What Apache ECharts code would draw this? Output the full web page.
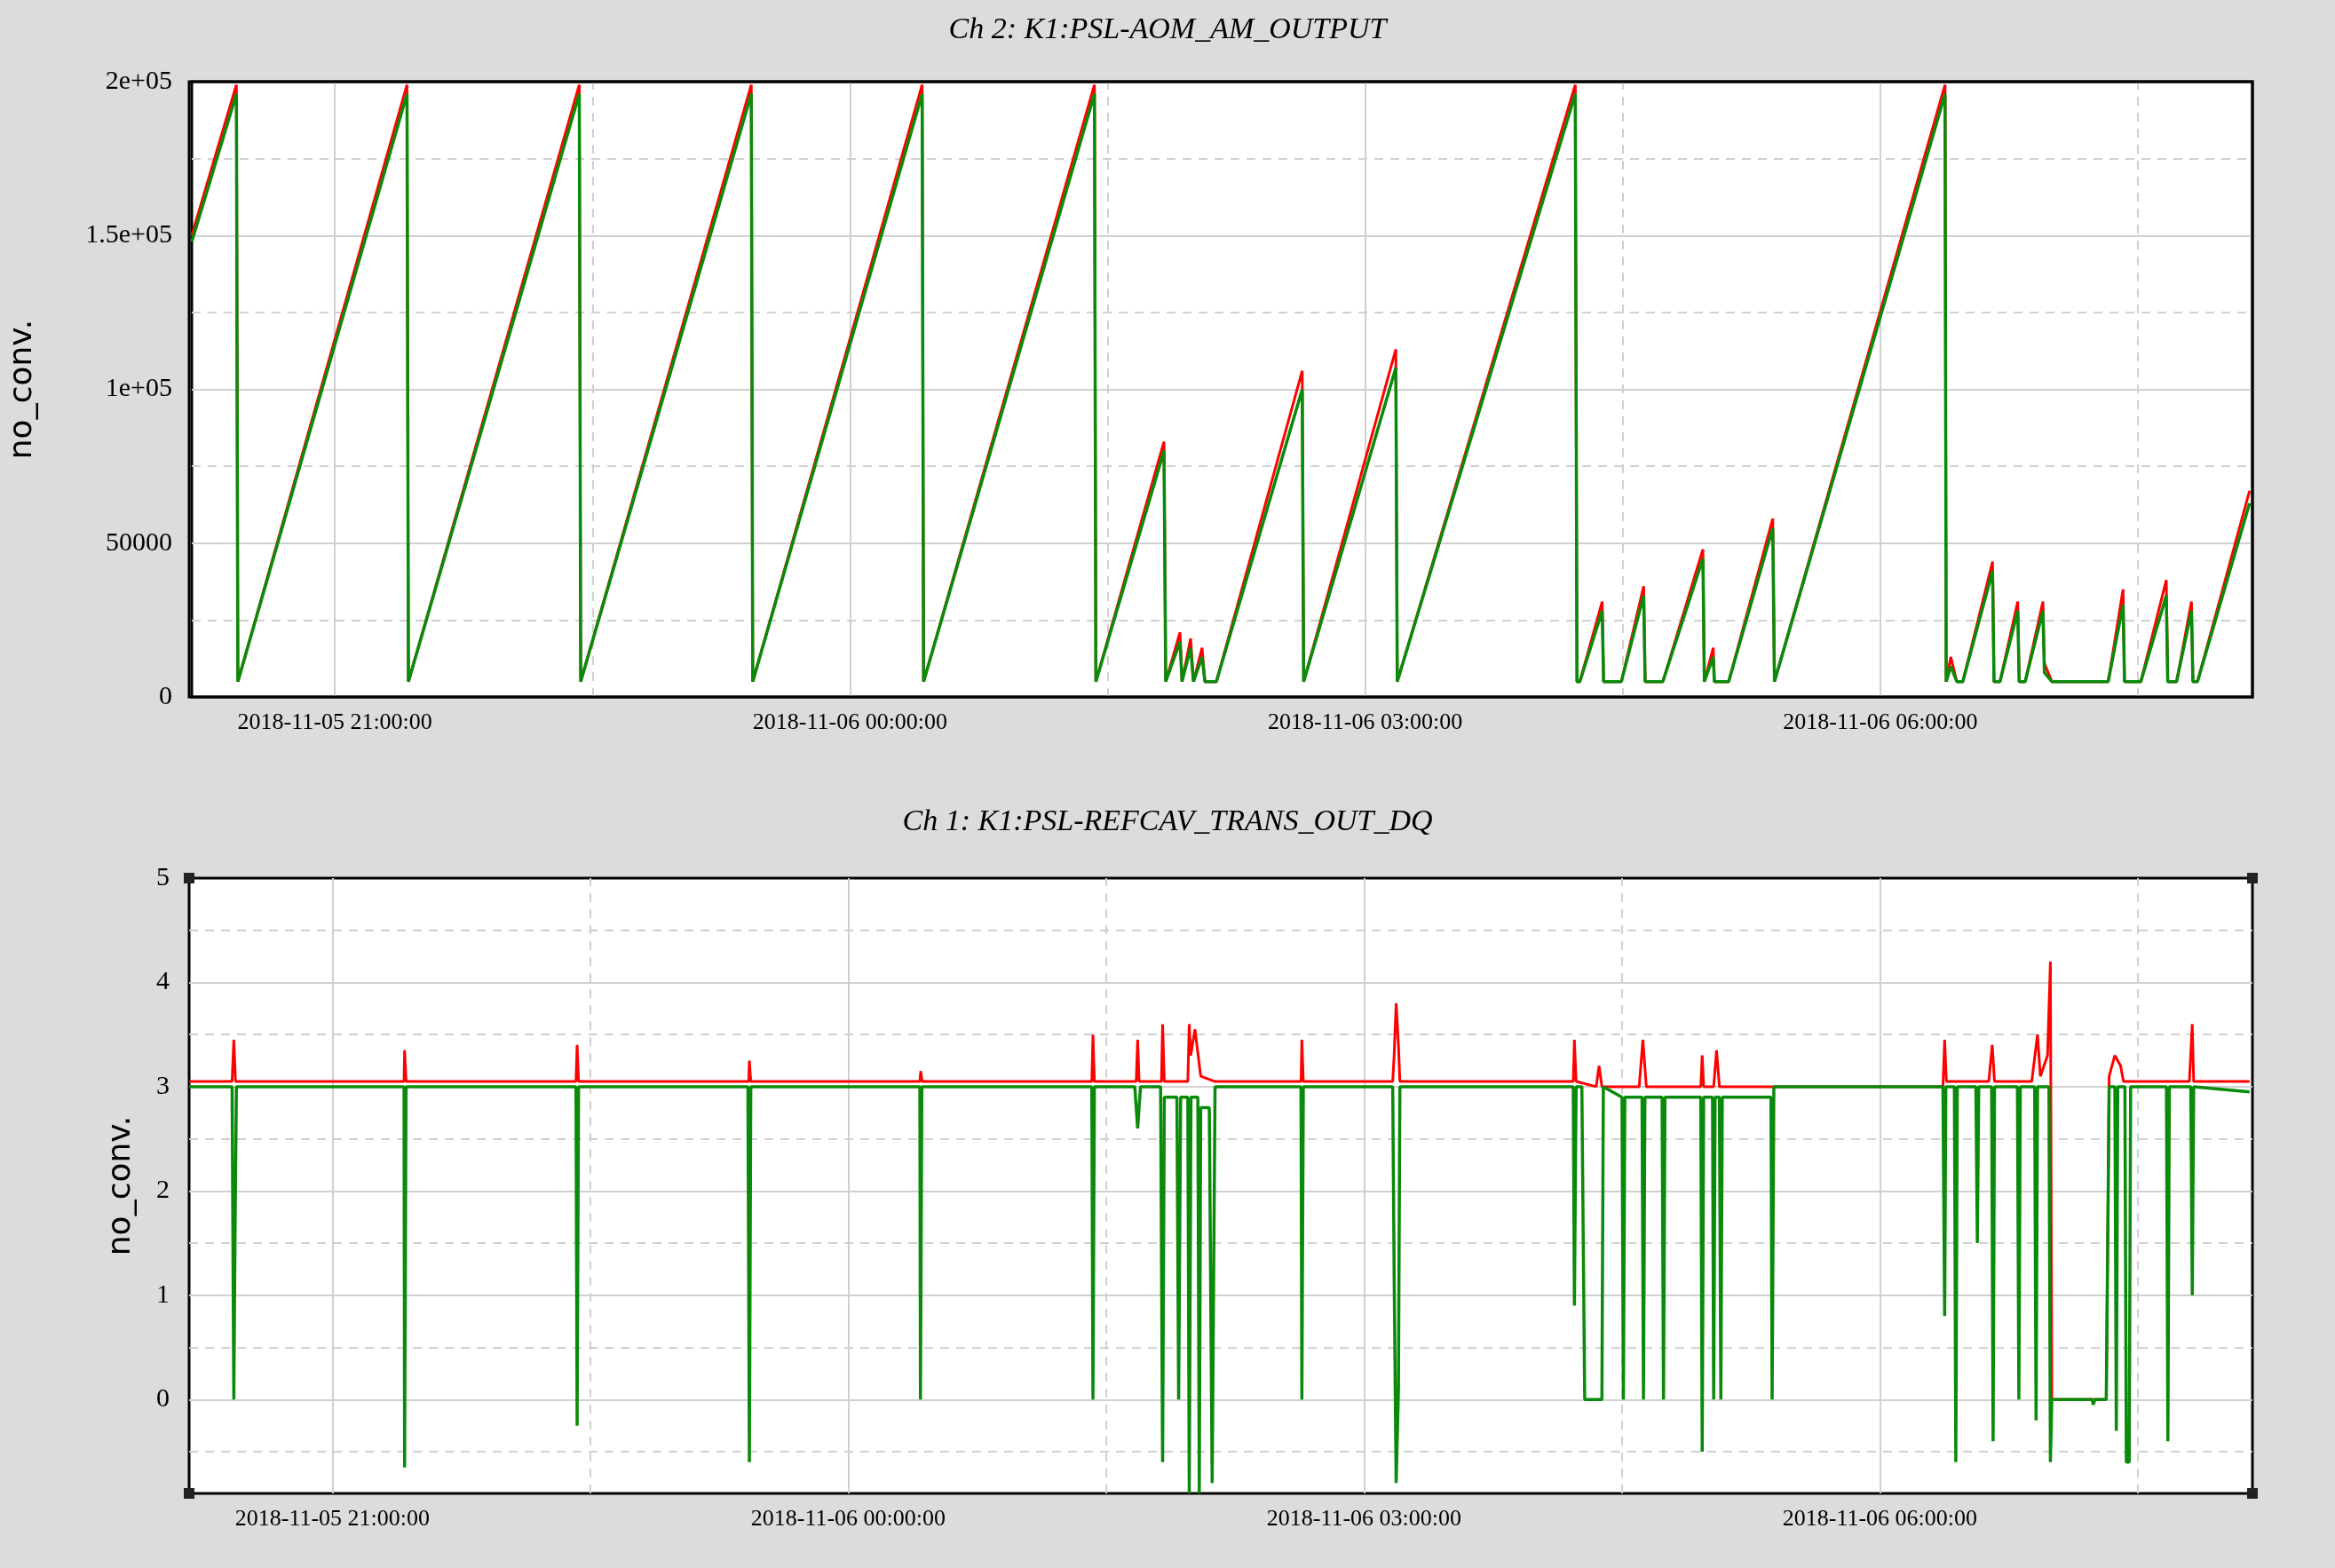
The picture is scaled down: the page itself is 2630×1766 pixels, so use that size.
<!DOCTYPE html>
<html><head><meta charset="utf-8">
<script src="https://cdn.jsdelivr.net/npm/echarts@6/dist/echarts.min.js"></script>
<style>html,body{margin:0;background:#dcdcdc}#c{width:2630px;height:1766px}</style>
</head><body><div id="c"></div>
<script>
// times are minutes after 2018-11-05 20:10:00 (UTC used for display)
var base = Date.UTC(2018,10,5,20,10,0);
var xMinutes = [0, 720];
var xLabelMinutes = [50, 230, 410, 590];
var xDashMinutes = [140, 320, 500, 680];

// Ch 2 sawtooth vertices
var aomT = [0,15.6,16.1,75.2,75.7,135.4,135.9,195.5,196,255.2,255.7,315.4,315.9,339.7,340.3,345.3,346,349,350,353,354,358,
  388,388.5,420.7,421.2,483.4,484,485,492.8,493.3,499.5,507.3,507.8,514,528,528.5,531.6,532,537,552.4,553,
  612.6,613,614.6,616.7,618.8,629.2,629.7,631.8,638,638.5,640.6,646.8,647.3,649.9,669.6,674.8,675.3,681,689.9,690.4,693.5,698.7,699.2,700.8,719];
var aomGreen = [148000,196000,5000,196000,5000,196000,5000,196000,5000,196000,5000,196000,5000,80000,5000,18000,5000,16000,5000,13000,5000,5000,
  100000,5000,107000,5000,196000,5000,5000,28000,5000,5000,33000,5000,5000,45000,5000,13000,5000,5000,55000,5000,
  196000,5000,10000,5000,5000,41000,5000,5000,28000,5000,5000,28000,8000,5000,5000,30000,5000,5000,33000,5000,5000,28000,5000,5000,63000];
var aomRed = [150000,199000,5000,199000,5000,199000,5000,199000,5000,199000,5000,199000,5000,83000,5000,21000,5000,19000,5000,16000,5000,5000,
  106000,5000,113000,5000,199000,5000,5000,31000,5000,5000,36000,5000,5000,48000,5000,16000,5000,5000,58000,5000,
  199000,5000,13000,5000,5000,44000,5000,5000,31000,5000,5000,31000,11000,5000,5000,35000,5000,5000,38000,5000,5000,31000,5000,5000,67000];

// Ch 1 vertices
var dqGreenT = [0,15,15.6,16,16.5,75,75.2,75.7,135,135.4,135.9,195,195.5,196,255,255.2,255.7,315,315.4,315.9,330,331,332,339,339.7,340.3,344.7,345.3,346,348.5,349,349.6,352,352.5,353,356,357,358,388,388.3,388.8,420,420.5,421.2,422,422.5,483,483.4,484,486,487,493,493.5,500,500.5,501,507,507.5,508,514,514.5,515,527.5,528,528.5,531.6,532,532.5,534,534.5,535,552,552.4,553,612,612.6,613,616,616.5,617,623.5,624,624.5,629,629.5,630,638,638.5,639,644,644.5,645,649,649.5,650,664,664.5,665,669,670,672,672.5,673,675.5,676,677,677.5,690,690.5,691,698.5,699,699.5,719];
var dqGreen = [3.0,3.0,0,1.5,3.0,3.0,-0.65,3.0,3.0,-0.25,3.0,3.0,-0.6,3.0,3.0,0,3.0,3.0,0,3.0,3.0,2.6,3.0,3.0,-0.6,2.9,2.9,0,2.9,2.9,-0.9,2.9,2.9,-0.9,2.8,2.8,-0.8,3.0,3.0,0,3.0,3.0,1.2,-0.8,0.1,3.0,3.0,0.9,3.0,3.0,0,0,3.0,2.9,0,2.9,2.9,0,2.9,2.9,0,2.9,2.9,-0.5,2.9,2.9,0,2.9,2.9,0,2.9,2.9,0,3.0,3.0,0.8,3.0,3.0,-0.6,3.0,3.0,1.5,3.0,3.0,-0.4,3.0,3.0,0,3.0,3.0,-0.2,3.0,3.0,-0.6,0,0,-0.05,0,0,3.0,3.0,-0.3,3.0,3.0,-0.6,-0.6,3.0,3.0,-0.4,3.0,3.0,1.0,3.0,2.95];
var dqRedT = [0,15,15.6,16.2,75,75.2,75.7,135,135.4,135.9,195.3,195.5,196,255,255.3,255.8,315,315.4,315.9,330.5,331,331.5,339.3,339.7,340.3,348.5,349,349.5,351,353,358,388,388.3,388.8,420,420.5,421.2,422,422.5,483,483.4,484,491,492,493,506,507.3,508.5,527.5,528,528.5,532,533,534,612,612.6,613.2,628,629.2,630,643,645,646,648.5,649.5,650,669,670,672,674,675,698,699,699.5,719];
var dqRed = [3.05,3.05,3.45,3.05,3.05,3.35,3.05,3.05,3.4,3.05,3.05,3.25,3.05,3.05,3.15,3.05,3.05,3.5,3.05,3.05,3.45,3.05,3.05,3.6,3.05,3.05,3.6,3.3,3.55,3.1,3.05,3.05,3.45,3.05,3.05,3.3,3.8,3.4,3.05,3.05,3.45,3.05,3.0,3.2,3.0,3.0,3.45,3.0,3.0,3.3,3.0,3.0,3.35,3.0,3.0,3.45,3.05,3.05,3.4,3.05,3.05,3.5,3.1,3.3,4.2,0,0,3.1,3.3,3.2,3.05,3.05,3.6,3.05,3.05];

var aomTicks = [0,50000,100000,150000,200000];
var dqTicks = [0,1,2,3,4,5];
var dqHalf = [-0.5,0.5,1.5,2.5,3.5,4.5];

function ms(m){ return base + m*60000; }
function pairs(t, v){ return t.map(function(x,i){ return [ms(x), v[i]]; }); }
function p2(n){ return (n<10?'0':'')+n; }
function fmtTime(v){
  var d = new Date(v);
  return d.getUTCFullYear()+'-'+p2(d.getUTCMonth()+1)+'-'+p2(d.getUTCDate())+' '+p2(d.getUTCHours())+':'+p2(d.getUTCMinutes())+':00';
}
function fmtAom(v){
  if (v===0) return '0';
  if (v===50000) return '50000';
  return (v/100000)+'e+05';
}
var solid = {color:'#d0d0d0', width:2, type:'solid'};
var dashed = {color:'#d0d0d0', width:2, type:[10,8]};
function vLines(){
  return xLabelMinutes.map(function(m){ return {xAxis: ms(m), lineStyle: solid}; })
    .concat(xDashMinutes.map(function(m){ return {xAxis: ms(m), lineStyle: dashed}; }));
}
var dqLines = vLines().concat(dqTicks.slice(0,5).map(function(v){ return {yAxis:v, lineStyle:solid}; }))
  .concat(dqHalf.map(function(v){ return {yAxis:v, lineStyle:dashed}; }));

var font = 'Liberation Serif';
function xAxisOf(i){
  return {type:'value', gridIndex:i, min:ms(xMinutes[0]), max:ms(xMinutes[1]),
    axisLine:{show:false}, axisTick:{show:false}, splitLine:{show:false},
    axisLabel:{customValues:xLabelMinutes.map(ms), formatter:fmtTime, color:'#000', fontFamily:font, fontSize:26, margin:16}};
}
function corner(x, y){
  return {type:'rect', shape:{x:x-6, y:y-6, width:12, height:12}, style:{fill:'#222'}, z:100};
}
var chart = echarts.init(document.getElementById('c'));
chart.setOption({
  backgroundColor:'#dcdcdc',
  animation:false,
  title:[
    {text:'Ch 2: K1:PSL-AOM_AM_OUTPUT', left:'center', top:12, textStyle:{fontFamily:font, fontStyle:'italic', fontWeight:'normal', fontSize:34, color:'#000'}},
    {text:'Ch 1: K1:PSL-REFCAV_TRANS_OUT_DQ', left:'center', top:904, textStyle:{fontFamily:font, fontStyle:'italic', fontWeight:'normal', fontSize:34, color:'#000'}}
  ],
  graphic:[corner(213,989), corner(2537,989), corner(213,1682), corner(2537,1682),
    {type:'rect', shape:{x:213, y:92, width:2324, height:693}, style:{fill:'none', stroke:'#000', lineWidth:3}, z:50}],
  grid:[
    {left:213, right:93, top:92, height:693, show:true, backgroundColor:'#fff', borderColor:'#000', borderWidth:3},
    {left:213, right:93, top:989, height:693, show:true, backgroundColor:'#fff', borderColor:'#000', borderWidth:3}
  ],
  xAxis:[xAxisOf(0), xAxisOf(1)],
  yAxis:[
    {type:'value', gridIndex:0, min:0, max:200000, interval:50000,
      name:'no_conv.', nameLocation:'middle', nameGap:172, nameTextStyle:{fontFamily:'DejaVu Sans', fontSize:36, color:'#000'},
      axisLine:{show:false}, axisTick:{show:false},
      axisLabel:{formatter:fmtAom, color:'#000', fontFamily:font, fontSize:30, margin:22},
      splitLine:{lineStyle:solid}, minorTick:{show:false, splitNumber:2},
      minorSplitLine:{show:true, lineStyle:dashed}},
    {type:'value', gridIndex:1, min:-0.9, max:5,
      name:'no_conv.', nameLocation:'middle', nameGap:58, nameTextStyle:{fontFamily:'DejaVu Sans', fontSize:36, color:'#000'},
      axisLine:{show:false}, axisTick:{show:false}, splitLine:{show:false},
      axisLabel:{customValues:dqTicks, color:'#000', fontFamily:font, fontSize:30, margin:22}}
  ],
  series:[
    {type:'line', xAxisIndex:0, yAxisIndex:0, data:[], z:1,
      markLine:{silent:true, z:1, symbol:'none', label:{show:false}, data:vLines()}},
    {type:'line', xAxisIndex:1, yAxisIndex:1, data:[], z:1,
      markLine:{silent:true, z:1, symbol:'none', label:{show:false}, data:dqLines}},
    {type:'line', xAxisIndex:0, yAxisIndex:0, z:3, data:pairs(aomT, aomRed), symbol:'none', lineStyle:{color:'#ff0000', width:3}},
    {type:'line', xAxisIndex:0, yAxisIndex:0, z:4, data:pairs(aomT, aomGreen), symbol:'none', lineStyle:{color:'#0a8a0a', width:3.5}},
    {type:'line', xAxisIndex:1, yAxisIndex:1, z:3, data:pairs(dqRedT, dqRed), symbol:'none', lineStyle:{color:'#ff0000', width:3}},
    {type:'line', xAxisIndex:1, yAxisIndex:1, z:4, data:pairs(dqGreenT, dqGreen), symbol:'none', lineStyle:{color:'#0a8a0a', width:3.5}}
  ]
});
</script></body></html>
